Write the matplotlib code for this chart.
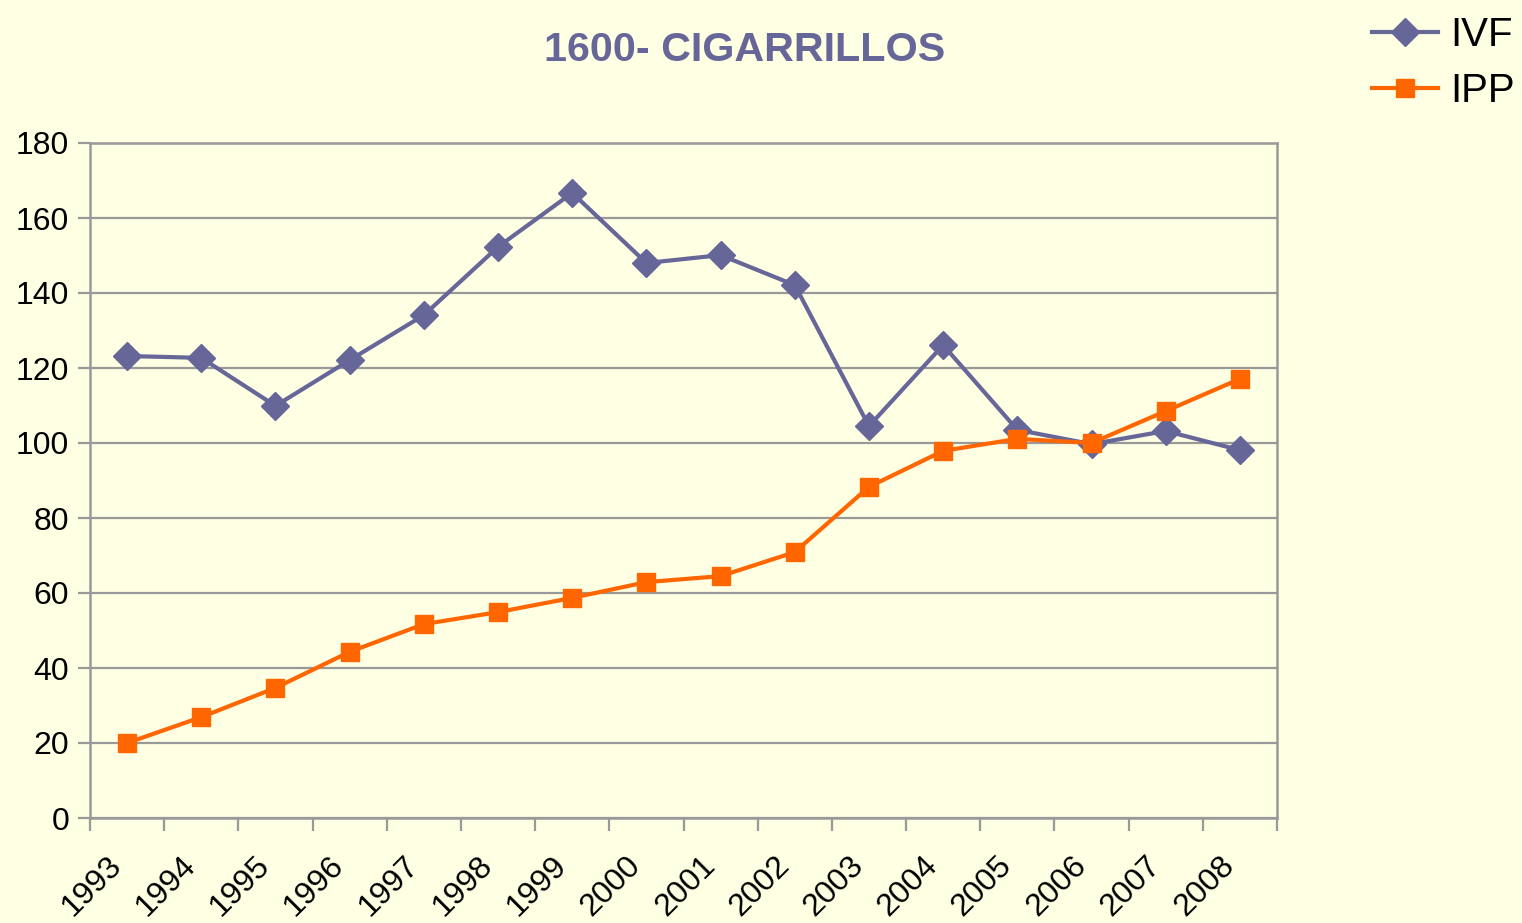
import numpy as np
import matplotlib.pyplot as plt
import matplotlib.transforms as mtransforms
from matplotlib.ticker import FixedLocator

plt.rcParams['font.family'] = ['Liberation Sans', 'DejaVu Sans']

years = [str(y) for y in range(1993, 2009)]
ivf = [123.2, 122.7, 109.9, 122.1, 134.1, 152.3, 166.7, 148.0,
       150.1, 142.1, 104.5, 126.1, 103.5, 99.7, 103.2, 98.1]
ipp = [20.0, 26.9, 34.7, 44.3, 51.7, 54.9, 58.7, 62.9,
       64.5, 70.9, 88.3, 97.9, 101.1, 100.0, 108.5, 117.1]

bg = '#FFFFE3'
grey = '#999999'

fig = plt.figure(figsize=(15.22, 9.23), dpi=100, facecolor=bg)
ax = fig.add_axes([90/1522, 105/923, (1277-90)/1522, (818-143)/923])
ax.set_facecolor(bg)

x = np.arange(len(years))
ax.plot(x, ivf, color='#666699', lw=3, marker='D', ms=14.5,
        label='IVF', zorder=3)
ax.plot(x, ipp, color='#FF6600', lw=3, marker='s', ms=13,
        label='IPP', zorder=4)

ax.set_xlim(-0.5, len(years) - 0.5)
ax.set_ylim(0, 180)
ax.set_yticks(range(0, 181, 20))
ax.yaxis.grid(True, color=grey, lw=1.6)
ax.set_axisbelow(True)

ax.set_xticks(x)
ax.set_xticklabels(years, rotation=45, ha='right', va='center',
                   rotation_mode='anchor', fontsize=23)
ax.tick_params(axis='x', which='major', length=0, pad=31)
shift = mtransforms.ScaledTranslation(-10/100, 0, fig.dpi_scale_trans)
for lab in ax.get_xticklabels():
    lab.set_transform(lab.get_transform() + shift)
ax.xaxis.set_minor_locator(FixedLocator(np.arange(-0.5, len(years), 1)))
ax.tick_params(axis='x', which='minor', length=9, width=1.6, color=grey)
ax.tick_params(axis='y', length=9, width=1.6, color=grey, labelsize=23, pad=6)

for s in ax.spines.values():
    s.set_color(grey)
    s.set_linewidth(1.8)

fig.text(745/1522, 1 - 50/923, '1600- CIGARRILLOS', ha='center', va='center',
         fontsize=29.7, fontweight='bold', color='#666699')

fig.legend(loc='upper right', bbox_to_anchor=(1.006, 1.0), frameon=False,
           fontsize=29, handlelength=1.65, handletextpad=0.3,
           labelspacing=0.45, borderaxespad=0.0)

fig.savefig('out.png', dpi=100, facecolor=bg)
